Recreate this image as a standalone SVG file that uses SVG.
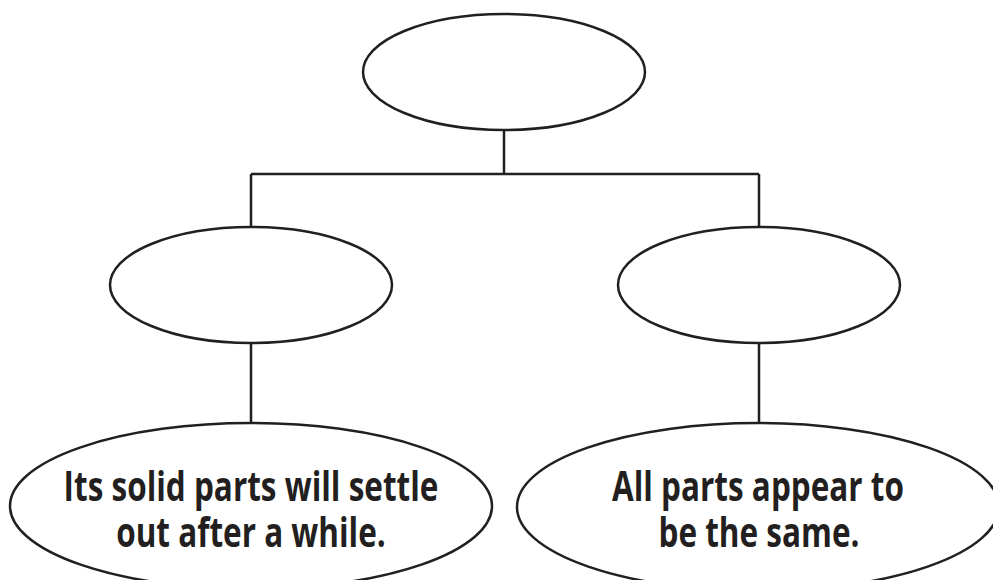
<svg xmlns="http://www.w3.org/2000/svg" width="993" height="580" viewBox="0 0 993 580">
<style>
.node{fill:#fff;stroke:#231f20;stroke-width:2.5}
.conn{fill:none;stroke:#231f20;stroke-width:2.5}
.lbl{font-family:"Open Sans","Noto Sans","Liberation Sans",sans-serif;font-weight:bold;font-size:31.5px;fill:#231f20;text-anchor:middle}
</style>
<rect width="993" height="580" fill="#fff"/>
<g id="connectors">
<path class="conn" d="M504,130 V174 M251,174 H759 M251,174 V227 M759,174 V227 M251,343 V423 M759,343 V423"/>
</g>
<g id="top"><ellipse class="node" cx="504" cy="72" rx="141" ry="58"/></g>
<g id="mid-left"><ellipse class="node" cx="251" cy="285" rx="141" ry="58"/></g>
<g id="mid-right"><ellipse class="node" cx="759" cy="285" rx="141" ry="58"/></g>
<g id="bottom-left"><ellipse class="node" cx="251" cy="506" rx="241" ry="83"/>
<text class="lbl" transform="translate(251,501) scale(1,1.33)">Its solid parts will settle</text>
<text class="lbl" transform="translate(251,547) scale(1,1.33)">out after a while.</text></g>
<g id="bottom-right"><ellipse class="node" cx="758" cy="507" rx="241" ry="84"/>
<text class="lbl" transform="translate(758,501) scale(1,1.33)">All parts appear to</text>
<text class="lbl" transform="translate(759,547) scale(1,1.33)">be the same.</text></g>
</svg>
